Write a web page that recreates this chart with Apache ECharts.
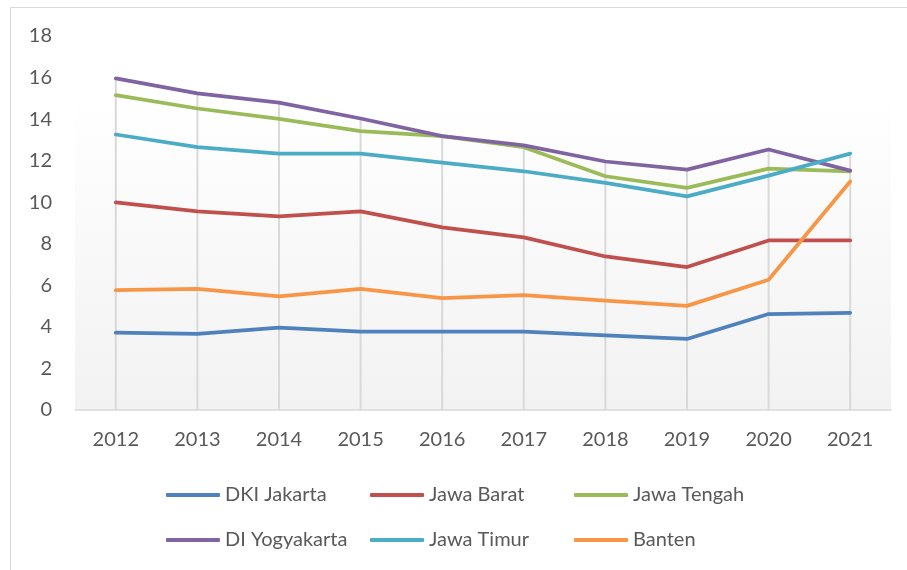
<!DOCTYPE html>
<html>
<head>
<meta charset="utf-8">
<script src="https://cdn.jsdelivr.net/npm/echarts@6/dist/echarts.min.js"></script>
<style>
  html, body { margin: 0; padding: 0; background: #fff; }
  #chart { width: 907px; height: 570px; }
</style>
</head>
<body>
<div id="chart"></div>
<script>
// data
var years = ['2012', '2013', '2014', '2015', '2016', '2017', '2018', '2019', '2020', '2021'];
var seriesNames = ['DKI Jakarta', 'Jawa Barat', 'Jawa Tengah', 'DI Yogyakarta', 'Jawa Timur', 'Banten'];
var dkiJakarta   = [3.72, 3.66, 3.96, 3.77, 3.77, 3.77, 3.59, 3.42, 4.62, 4.68];
var jawaBarat    = [9.99, 9.56, 9.32, 9.56, 8.79, 8.31, 7.39, 6.88, 8.16, 8.16];
var jawaTengah   = [15.15, 14.51, 14.01, 13.42, 13.18, 12.65, 11.25, 10.69, 11.62, 11.49];
var diYogyakarta = [15.96, 15.24, 14.79, 14.03, 13.18, 12.74, 11.96, 11.57, 12.54, 11.52];
var jawaTimur    = [13.26, 12.65, 12.34, 12.34, 11.91, 11.49, 10.93, 10.28, 11.28, 12.34];
var banten       = [5.77, 5.83, 5.47, 5.83, 5.38, 5.53, 5.26, 5.01, 6.27, 11.0];
var yTicks = { min: 0, max: 18, interval: 2 };

var allValues = [dkiJakarta, jawaBarat, jawaTengah, diYogyakarta, jawaTimur, banten];
var colors = ['#4f81bd', '#c0504d', '#9bbb59', '#8064a2', '#4bacc6', '#f79646'];

// drop lines: from the highest point in each year down to the axis
var dropTop = years.map(function (y, i) {
  return Math.max.apply(null, allValues.map(function (s) { return s[i]; }));
});

var FONT = 'Lato';
var textColor = '#595959';

var series = [{
  name: 'drop',
  type: 'bar',
  data: dropTop,
  barWidth: 2,
  itemStyle: { color: '#d9d9d9' },
  silent: true,
  z: 1
}];
seriesNames.forEach(function (name, i) {
  series.push({
    name: name,
    type: 'line',
    data: allValues[i],
    symbol: 'none',
    lineStyle: { width: 3.75, color: colors[i], cap: 'round', join: 'round' },
    itemStyle: { color: colors[i] },
    z: 3
  });
});

// legend laid out as a 3x2 grid, one component per item
var colX = [166, 370, 574];
var rowY = [494, 539];
var legends = seriesNames.map(function (name, i) {
  return {
    data: [name],
    left: colX[i % 3],
    top: rowY[Math.floor(i / 3)] - 9,
    padding: 0,
    icon: 'roundRect',
    itemWidth: 54,
    itemHeight: 4,
    itemGap: 5,
    textStyle: { fontFamily: FONT, fontSize: 20, color: textColor },
    selectedMode: false
  };
});

var chart = echarts.init(document.getElementById('chart'));
var option = {
  animation: false,
  backgroundColor: '#ffffff',
  textStyle: { fontFamily: FONT },
  graphic: [{
    type: 'rect',
    shape: { x: 10.5, y: 7.5, width: 950, height: 620 },
    style: { fill: null, stroke: '#d9d9d9', lineWidth: 1 },
    silent: true
  }],
  grid: {
    left: 75, right: 16, top: 36, bottom: 160,
    show: true,
    borderWidth: 0,
    backgroundColor: {
      type: 'linear', x: 0, y: 0, x2: 0, y2: 1,
      colorStops: [{ offset: 0, color: '#ffffff' }, { offset: 0.15, color: '#ffffff' }, { offset: 1, color: '#f2f2f2' }]
    }
  },
  xAxis: {
    type: 'category',
    data: years,
    boundaryGap: true,
    axisLine: { show: true, lineStyle: { color: '#d9d9d9', width: 1.5 } },
    axisTick: { show: false },
    splitLine: { show: false },
    axisLabel: { fontFamily: FONT, fontSize: 20, color: textColor, margin: 20 }
  },
  yAxis: {
    type: 'value',
    min: yTicks.min, max: yTicks.max, interval: yTicks.interval,
    axisLine: { show: false },
    axisTick: { show: false },
    splitLine: { show: false },
    axisLabel: { fontFamily: FONT, fontSize: 20, color: textColor, margin: 23 }
  },
  legend: legends,
  series: series
};
chart.setOption(option);
</script>
</body>
</html>
